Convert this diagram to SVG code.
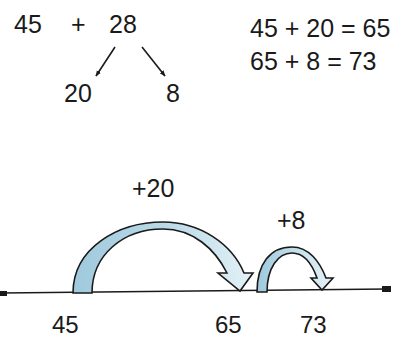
<svg xmlns="http://www.w3.org/2000/svg" width="409" height="339" viewBox="0 0 409 339">
<style>
text{font-family:"Liberation Sans",Arial,sans-serif;font-size:25px;fill:#1a1a1a}
.lbl{font-size:24px}
.arc{stroke:#1a1a1a;stroke-width:1.6;stroke-linejoin:miter}
.ln{stroke:#1a1a1a;stroke-width:1.6;fill:none}
</style>
<defs>
<marker id="ah" viewBox="0 0 10 10" refX="9" refY="5" markerWidth="6" markerHeight="6" orient="auto" markerUnits="userSpaceOnUse">
<path d="M0,1 L10,5 L0,9 Z" fill="#1a1a1a"/>
</marker>
<linearGradient id="g1" x1="73" y1="0" x2="253" y2="0" gradientUnits="userSpaceOnUse">
<stop offset="0" stop-color="#9fc9dd"/><stop offset="0.5" stop-color="#b9d9e7"/><stop offset="1" stop-color="#e3f1f7"/>
</linearGradient>
<linearGradient id="g2" x1="257" y1="0" x2="333" y2="0" gradientUnits="userSpaceOnUse">
<stop offset="0" stop-color="#9fc9dd"/><stop offset="0.5" stop-color="#c2dfeb"/><stop offset="1" stop-color="#e6f3f8"/>
</linearGradient>
</defs>
<g id="sum"><text x="14" y="33">45</text><text x="71" y="33">+</text><text x="109" y="33">28</text></g>
<g id="part20"><text x="64" y="102">20</text></g>
<g id="part8"><text x="166" y="102">8</text></g>
<g id="eq1"><text x="250" y="37">45 + 20 = 65</text></g>
<g id="eq2"><text x="250" y="70">65 + 8 = 73</text></g>
<g id="connectors">
<line class="ln" x1="115" y1="47" x2="96" y2="76" marker-end="url(#ah)"/>
<line class="ln" x1="142" y1="47" x2="165" y2="76" marker-end="url(#ah)"/>
</g>
<g id="numberline">
<line x1="2" y1="293" x2="387" y2="289" stroke="#1a1a1a" stroke-width="1.6"/>
<rect x="0" y="291" width="7" height="5" fill="#1a1a1a"/>
<rect x="382" y="286" width="9" height="6" fill="#1a1a1a"/>
</g>
<g id="jump20">
<path class="arc" fill="url(#g1)" d="M73,293 C73,248 118,222 163,222 C200,222 232,244 244,273 L253,273 L240,291 L218,273 L227,273 C215,249 193,229 163,229 C123,229 92,255 92,293 Z"/>
<text x="132" y="197">+20</text>
</g>
<g id="jump8">
<path class="arc" fill="url(#g2)" d="M257,292 C257,264 270,247 292,247 C309,247 320,262 326,278 L333,278 L322,290 L311,278 L317,278 C312,264 304,253 292,253 C278,253 267,268 267,292 Z"/>
<text x="277" y="229">+8</text>
</g>
<g id="labels">
<text class="lbl" x="52" y="333">45</text>
<text class="lbl" x="215" y="333">65</text>
<text class="lbl" x="300" y="333">73</text>
</g>
</svg>
